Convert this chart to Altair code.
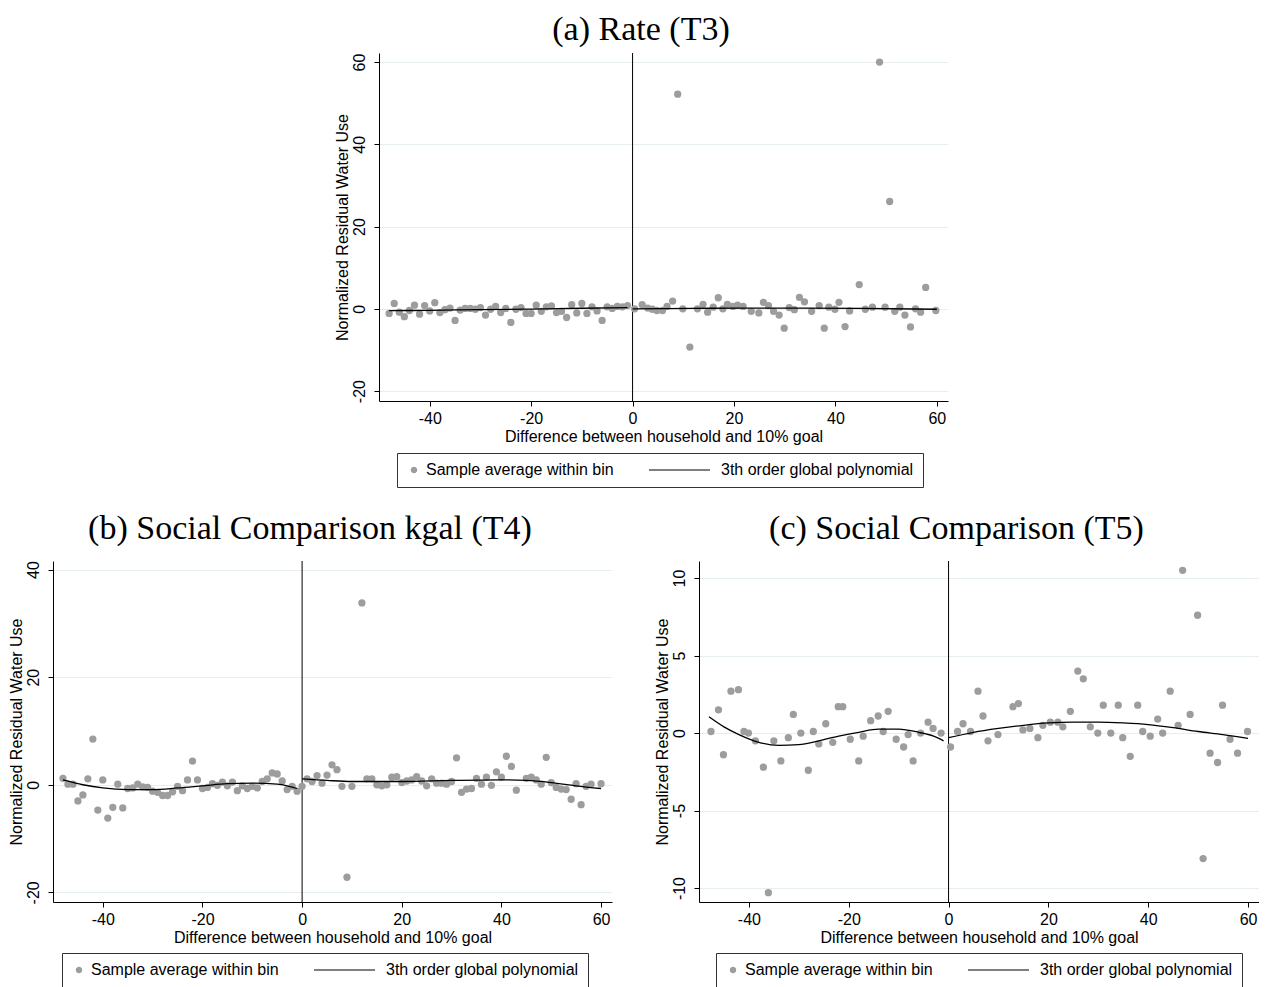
import altair as alt
import pandas as pd

S_LABEL = "Sample average within bin"
P_LABEL = "3th order global polynomial"
X_TITLE = "Difference between household and 10% goal"
Y_TITLE = "Normalized Residual Water Use"
X_TICKS = [-40, -20, 0, 20, 40, 60]

# ---------------- Panel (a) Rate (T3) ----------------
a_left_x = [-48, -47, -46, -45, -44, -43, -42, -41, -40, -39, -38, -37, -36, -35, -34, -33,
            -32, -31, -30, -29, -28, -27, -26, -25, -24, -23, -22, -21, -20, -19, -18, -17,
            -16, -15, -14, -13, -12, -11, -10, -9, -8, -7, -6, -5, -4, -3, -2, -1]
a_left_y = [-1.1, 1.3, -0.8, -1.9, -0.4, 0.9, -1.3, 0.8, -0.5, 1.5, -0.9, -0.2, 0.2, -2.8, -0.3, 0.1,
            0.1, -0.1, 0.3, -1.5, -0.1, 0.6, -0.9, 0.1, -3.3, -0.1, 0.3, -1.1, -1.1, 0.9, -0.6, 0.5,
            0.7, -0.9, -0.6, -2.1, 1.0, -1.0, 1.3, -1.1, 0.5, -0.5, -2.8, 0.5, 0.1, 0.6, 0.5, 0.8]
a_right_x = [0.4, 1.9, 3.0, 3.9, 4.8, 5.9, 6.8, 7.9, 8.9, 9.9, 11.3, 12.8, 13.9, 14.8, 15.9, 16.9,
             17.8, 18.7, 19.8, 20.7, 21.8, 23.4, 24.9, 25.8, 26.8, 27.8, 28.9, 29.9, 30.9, 31.9,
             32.9, 33.9, 35.3, 36.8, 37.8, 38.7, 39.9, 40.7, 41.9, 42.8, 44.7, 45.9, 47.3, 48.7,
             49.8, 50.7, 51.7, 52.7, 53.7, 54.8, 55.8, 56.8, 57.8, 59.8]
a_right_y = [0.0, 1.0, 0.2, -0.1, -0.4, -0.4, 0.6, 1.9, 52.2, 0.0, -9.3, 0.0, 1.1, -0.8, 0.4, 2.7,
             0.0, 1.1, 0.6, 0.9, 0.6, -0.6, -1.0, 1.6, 0.8, -0.6, -1.5, -4.7, 0.3, -0.2,
             2.8, 1.7, -0.6, 0.8, -4.7, 0.4, -0.1, 1.6, -4.3, -0.5, 5.9, -0.1, 0.4, 60.0,
             0.4, 26.1, -0.6, 0.4, -1.5, -4.4, 0.0, -0.8, 5.2, -0.4]
a_fit_left_x = [-48, -40, -30, -20, -10, -1]
a_fit_left_y = [-0.45, -0.35, -0.2, -0.05, 0.15, 0.3]
a_fit_right_x = [0, 15, 30, 45, 60]
a_fit_right_y = [0.0, 0.15, 0.2, 0.1, -0.1]

# ---------------- Panel (b) Social Comparison kgal (T4) ----------------
b_left_x = [-48, -47, -46, -45, -44, -43, -42, -41, -40, -39, -38, -37, -36, -35, -34, -33,
            -32, -31, -30, -29, -28, -27, -26, -25, -24, -23, -22, -21, -20, -19, -18, -17,
            -16, -15, -14, -13, -12, -11, -10, -9, -8, -7, -6, -5, -4, -3, -2, -1]
b_left_y = [1.2, 0.1, 0.1, -3.0, -1.9, 1.1, 8.5, -4.7, 0.9, -6.2, -4.2, 0.1, -4.3, -0.7, -0.6, 0.1,
            -0.4, -0.5, -1.2, -1.4, -2.0, -2.0, -1.3, -0.3, -1.1, 0.9, 4.4, 0.9, -0.7, -0.5, 0.2, -0.1,
            0.5, -0.2, 0.5, -1.1, -0.2, -0.7, -0.3, -0.6, 0.6, 1.1, 2.2, 2.0, 0.7, -0.9, -0.3, -1.2]
b_right_x = [0, 1, 2, 3, 4, 5, 6, 7, 8, 9, 10, 12, 13, 14, 15, 16, 17, 18, 19, 20, 21, 22, 23, 24,
             25, 26, 27, 28, 29, 30, 31, 32, 33, 34, 35, 36, 37, 38, 39, 40, 41, 42, 43, 45, 46,
             47, 48, 49, 50, 51, 52, 53, 54, 55, 56, 57, 58, 60]
b_right_y = [-0.3, 1.1, 0.6, 1.7, 0.3, 1.8, 3.7, 2.8, -0.3, -17.2, -0.3, 33.8, 1.1, 1.1, 0.0, -0.2,
             0.0, 1.4, 1.5, 0.4, 0.7, 0.9, 1.5, 0.7, -0.2, 1.1, 0.3, 0.3, 0.1, 0.6, 5.0, -1.4,
             -0.8, -0.7, 1.2, 0.1, 1.4, -0.1, 2.4, 1.4, 5.3, 3.4, -1.0, 1.2, 1.4, 0.9, 0.1, 5.1,
             0.4, -0.5, -0.8, -0.9, -2.7, 0.2, -3.7, -0.3, 0.1, 0.2]
b_fit_left_x = [-48, -44, -40, -35, -30, -25, -20, -15, -10, -5, -3, -1]
b_fit_left_y = [0.9, 0.0, -0.6, -0.9, -0.9, -0.6, -0.2, 0.2, 0.3, 0.1, -0.2, -0.7]
b_fit_right_x = [0, 5, 10, 20, 30, 40, 45, 50, 55, 60]
b_fit_right_y = [1.1, 0.8, 0.6, 0.6, 0.8, 0.9, 0.8, 0.4, -0.2, -0.7]

# ---------------- Panel (c) Social Comparison (T5) ----------------
c_left_x = [-47.6, -46.1, -45.1, -43.6, -42.1, -41.0, -40.1, -38.7, -37.1, -36.1, -35.0, -33.6,
            -32.1, -31.1, -29.6, -28.1, -27.1, -26.0, -24.6, -23.2, -22.1, -21.2, -19.7, -18.0,
            -17.1, -15.6, -14.1, -13.1, -12.1, -10.5, -9.0, -8.1, -7.1, -5.6, -4.1, -3.1, -1.5]
c_left_y = [0.1, 1.5, -1.4, 2.7, 2.8, 0.1, 0.0, -0.5, -2.2, -10.3, -0.5, -1.8,
            -0.3, 1.2, 0.0, -2.4, 0.1, -0.7, 0.6, -0.6, 1.7, 1.7, -0.4, -1.8,
            -0.2, 0.8, 1.1, 0.1, 1.4, -0.4, -0.9, -0.1, -1.8, 0.0, 0.7, 0.3, 0.0]
c_right_x = [0.4, 1.8, 2.9, 4.4, 5.9, 6.9, 7.9, 9.9, 12.9, 14.0, 14.9, 16.3, 17.9, 18.9, 20.4,
             21.9, 22.9, 24.4, 25.9, 27.0, 28.4, 29.9, 31.0, 32.5, 34.0, 34.9, 36.4, 37.9, 38.9,
             40.4, 41.9, 42.9, 44.4, 46.0, 46.9, 48.4, 49.9, 51.0, 52.4, 53.9, 54.9, 56.4, 57.9, 59.9]
c_right_y = [-0.9, 0.1, 0.6, 0.1, 2.7, 1.1, -0.5, -0.1, 1.7, 1.9, 0.2, 0.3, -0.3, 0.5, 0.7,
             0.7, 0.4, 1.4, 4.0, 3.5, 0.4, 0.0, 1.8, 0.0, 1.8, -0.3, -1.5, 1.8, 0.1,
             -0.2, 0.9, 0.0, 2.7, 0.5, 10.5, 1.2, 7.6, -8.1, -1.3, -1.9, 1.8, -0.4, -1.3, 0.1]
c_fit_left_x = [-48, -45, -42, -38, -34, -30, -26, -22, -18, -14, -10, -6, -3, -1]
c_fit_left_y = [1.05, 0.4, -0.1, -0.6, -0.8, -0.75, -0.5, -0.2, 0.05, 0.25, 0.25, 0.05, -0.2, -0.5]
c_fit_right_x = [0, 5, 10, 15, 20, 25, 30, 35, 40, 45, 50, 55, 60]
c_fit_right_y = [-0.3, 0.05, 0.3, 0.5, 0.65, 0.7, 0.7, 0.65, 0.55, 0.35, 0.1, -0.1, -0.35]

SANS = "Liberation Sans"
SERIF = "Liberation Serif"
DOT = "#9d9d9d"
LINE_SYMBOL = "M-12,0H0.2"


def panel(title, lx, ly, rx, ry, flx, fly, frx, fry, ydom, yvals, w, h, legx, legy, toff):
    pts = pd.DataFrame({"x": lx + rx, "y": ly + ry, "series": S_LABEL})
    fit = pd.DataFrame({
        "x": flx + frx,
        "y": fly + fry,
        "seg": ["left"] * len(flx) + ["right"] * len(frx),
    })
    cut = pd.DataFrame({"x": [0]})

    xs = alt.Scale(domain=[-50, 62.2], nice=False, zero=False)
    ys = alt.Scale(domain=ydom, nice=False, zero=False)
    xax = alt.Axis(values=X_TICKS, title=X_TITLE, grid=False, labelExpr="'' + datum.value")
    yax = alt.Axis(values=yvals, title=Y_TITLE, grid=True, labelAngle=270,
                   labelAlign="center", labelBaseline="bottom", labelExpr="'' + datum.value")
    dom = [S_LABEL, P_LABEL]
    leg = alt.Legend(title=None, orient="none", legendX=legx, legendY=legy,
                     direction="horizontal", labelFont=SANS, labelFontSize=16,
                     labelColor="black", labelLimit=400, strokeColor="#333333",
                     fillColor="white", padding=9, columnPadding=32,
                     symbolStrokeWidth=1.2, labelOffset=4)

    rule = alt.Chart(cut).mark_rule(color="black", strokeWidth=1).encode(
        x=alt.X("x:Q", scale=xs, axis=xax))
    dots = alt.Chart(pts).mark_point(filled=True, opacity=1).encode(
        x=alt.X("x:Q", scale=xs, axis=xax),
        y=alt.Y("y:Q", scale=ys, axis=yax),
        fill=alt.Fill("series:N", scale=alt.Scale(domain=dom, range=[DOT, "transparent"]), legend=leg),
        stroke=alt.Stroke("series:N", scale=alt.Scale(domain=dom, range=[DOT, "black"]), legend=leg),
        shape=alt.Shape("series:N", scale=alt.Scale(domain=dom, range=["circle", LINE_SYMBOL]), legend=leg),
        size=alt.Size("series:N", scale=alt.Scale(domain=dom, range=[28, 100]), legend=leg),
    )
    line = alt.Chart(fit).mark_line(color="black", strokeWidth=1.3, interpolate="monotone").encode(
        x=alt.X("x:Q", scale=xs, axis=xax),
        y=alt.Y("y:Q", scale=ys, axis=yax),
        detail="seg:N",
    )
    return alt.layer(rule, dots, line).properties(
        width=w, height=h,
        title=alt.TitleParams(title, font=SERIF, fontSize=34, fontWeight="normal",
                              color="black", offset=toff, frame="bounds"),
    )


pa = panel("(a) Rate (T3)", a_left_x, a_left_y, a_right_x, a_right_y,
           a_fit_left_x, a_fit_left_y, a_fit_right_x, a_fit_right_y,
           [-22.4, 62.2], [-20, 0, 20, 40, 60], 569, 348, 18, 400, 6)
pb = panel("(b) Social Comparison kgal (T4)", b_left_x, b_left_y, b_right_x, b_right_y,
           b_fit_left_x, b_fit_left_y, b_fit_right_x, b_fit_right_y,
           [-21.8, 41.6], [-20, 0, 20, 40], 559, 341, 9, 392, 15)
pc = panel("(c) Social Comparison (T5)", c_left_x, c_left_y, c_right_x, c_right_y,
           c_fit_left_x, c_fit_left_y, c_fit_right_x, c_fit_right_y,
           [-10.9, 11.1], [-10, -5, 0, 5, 10], 560, 341, 17, 392, 15)

# empty view used only to push panel (a) to the right
spacer = alt.Chart(pd.DataFrame({"v": []})).mark_point(opacity=0).properties(width=280, height=10)

ind = dict(x="independent", y="independent", fill="independent", stroke="independent",
           shape="independent", size="independent")
indl = dict(fill="independent", stroke="independent", shape="independent", size="independent")
top = alt.hconcat(spacer, pa, spacing=0).resolve_scale(**ind).resolve_legend(**indl)
bottom = alt.hconcat(pb, pc, spacing=42).resolve_scale(**ind).resolve_legend(**indl)
chart = alt.vconcat(
    top, bottom, spacing=23, background="white",
    padding={"top": 4, "left": 0, "right": 0, "bottom": 0},
).resolve_scale(**ind).resolve_legend(**indl).configure_view(
    stroke=None
).configure_axis(
    domainColor="black", domainWidth=1, tickColor="black", tickSize=5, tickWidth=1,
    labelFont=SANS, titleFont=SANS, labelFontSize=16, titleFontSize=16,
    labelColor="black", titleColor="black", titleFontWeight="normal",
    gridColor="#e6eef0", gridWidth=1, labelPadding=4,
).configure_axisX(titlePadding=2).configure_axisY(labelPadding=7, titlePadding=1).configure_title(
    anchor="middle"
)

chart.save("out.html", embed_options={"renderer": "svg", "actions": False})
